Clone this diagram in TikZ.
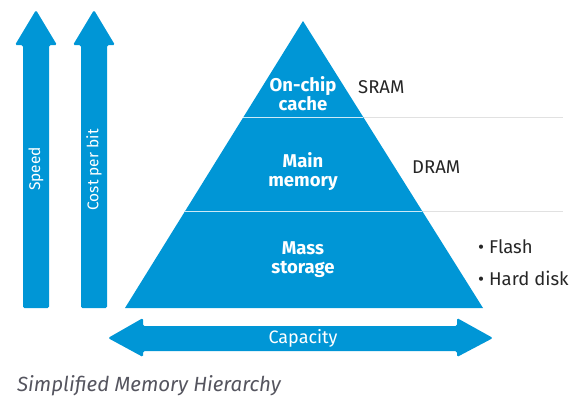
\documentclass[tikz,border=0pt]{standalone}
\usepackage{fontspec}
\setmainfont{Fira Sans}
\definecolor{hpblue}{RGB}{0,150,214}
\definecolor{capgray}{RGB}{85,85,95}
\definecolor{rulegray}{RGB}{225,225,225}
\begin{document}
\begin{tikzpicture}[x=1pt,y=-1pt,
  blueshape/.style={fill=hpblue,draw=none,rounded corners=1.5pt},
  intext/.style={text=white,font=\bfseries\fontsize{18.5}{19}\selectfont,align=center,inner sep=0pt},
  arrtext/.style={text=white,font=\fontsize{15.5}{17}\selectfont,inner sep=0pt},
  sidetext/.style={text=black!85,font=\fontsize{18.5}{20}\selectfont,anchor=west,inner sep=0pt}]
\useasboundingbox (0,0) rectangle (569,400);
% vertical arrows
\fill[blueshape] (23,308) -- (23,45) -- (15,45) -- (36,10) -- (57,45) -- (49,45) -- (49,308) -- cycle;
\fill[blueshape] (81,308) -- (81,45) -- (73,45) -- (94,10) -- (115,45) -- (107,45) -- (107,308) -- cycle;
\node[arrtext,rotate=90] (speed) at (36,169) {Speed};
\node[arrtext,rotate=90] (cost) at (94,170) {Cost per bit};
% pyramid
\fill[hpblue] (125,308) -- (303,21) -- (483,308) -- cycle;
\draw[white!80!hpblue,line width=1pt] (243,117) -- (363,117);
\draw[white!80!hpblue,line width=1pt] (184,211) -- (422,211);
\draw[rulegray,line width=0.8pt] (363.5,117) -- (563,117);
\draw[rulegray,line width=0.8pt] (422.5,211) -- (563,211);
\node[intext] (onchip) at (303,94) {On-chip\\cache};
\node[intext] (main) at (303,172) {Main\\memory};
\node[intext] (mass) at (303,260) {Mass\\storage};
\node[sidetext] (sram) at (358,87) {SRAM};
\node[sidetext] (dram) at (412,167) {DRAM};
\node[sidetext] (flash) at (478,247) {• Flash};
\node[sidetext] (hdd) at (478,278) {• Hard disk};
% capacity arrow
\fill[blueshape] (108,338) -- (143,318) -- (143,326) -- (457,326) -- (457,318) -- (493,338) -- (457,357) -- (457,351) -- (143,351) -- (143,357) -- cycle;
\node[arrtext,font=\fontsize{18}{20}\selectfont] (cap) at (303,338) {Capacity};
% caption
\node[anchor=west,inner sep=0pt,text=capgray,font=\itshape\fontsize{20.5}{22}\selectfont] (caption) at (17,386) {Simplified Memory Hierarchy};
\end{tikzpicture}
\end{document}
